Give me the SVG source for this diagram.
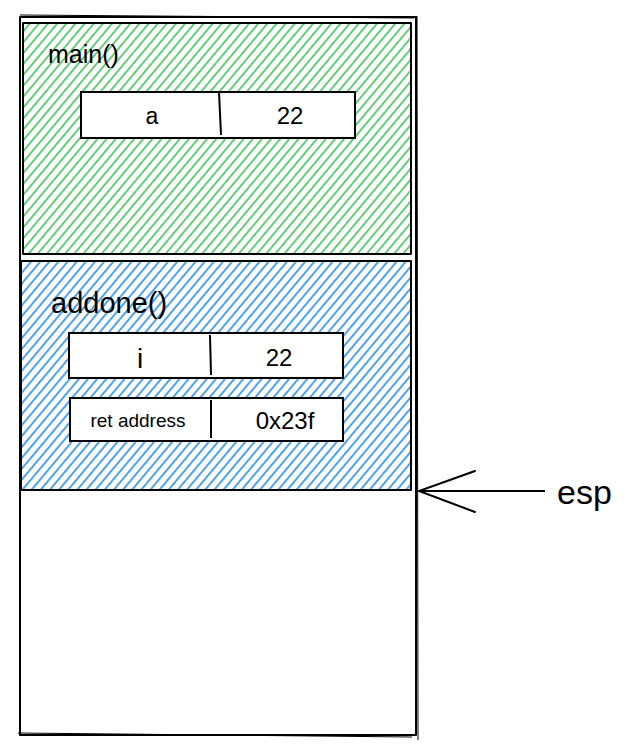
<svg xmlns="http://www.w3.org/2000/svg" width="637" height="753" viewBox="0 0 637 753">
<defs>
<pattern id="hG" width="7" height="7" patternUnits="userSpaceOnUse" patternTransform="rotate(40)">
<line x1="3" y1="0" x2="3" y2="7" stroke="#40c057" stroke-width="1.6"/>
</pattern>
<pattern id="hB" width="7" height="7" patternUnits="userSpaceOnUse" patternTransform="rotate(40)">
<line x1="3" y1="0" x2="3" y2="7" stroke="#228be6" stroke-width="1.6"/>
</pattern>
</defs>
<style>
.box{stroke:#000;stroke-width:2;stroke-linejoin:round}
.cell{fill:#fff;stroke:#000;stroke-width:2}
.t{font-family:"Liberation Sans","Noto Sans",sans-serif;fill:#000}
.c{text-anchor:middle}
</style>
<rect width="637" height="753" fill="#fff"/>
<g id="stack">
<rect class="box" x="20" y="17" width="396" height="718" fill="none"/>
<path d="M20 15 L414 18 M18 733 L412 737 M417 16 L418 740" fill="none" stroke="#000" stroke-width="1"/>
</g>
<g id="main-frame">
<rect x="23" y="23" width="388" height="231" fill="url(#hG)" class="box"/>
<text class="t" x="48" y="63" font-size="25">main()</text>
</g>
<g id="main-a">
<rect class="cell" x="81" y="92" width="274" height="46"/>
<line x1="219" y1="92" x2="221" y2="135" stroke="#000" stroke-width="2"/>
<text class="t c" x="152" y="124" font-size="23">a</text>
<text class="t c" x="290" y="124" font-size="24">22</text>
</g>
<g id="addone-frame">
<rect x="21" y="261" width="390" height="229" fill="url(#hB)" class="box"/>
<text class="t" x="51" y="313" font-size="29">addone()</text>
</g>
<g id="addone-i">
<rect class="cell" x="69" y="333" width="274" height="45"/>
<line x1="210" y1="335" x2="211" y2="375" stroke="#000" stroke-width="2"/>
<text class="t c" x="140" y="368" font-size="28">i</text>
<text class="t c" x="279" y="366" font-size="24">22</text>
</g>
<g id="addone-ret">
<rect class="cell" x="70" y="398" width="273" height="43"/>
<line x1="211" y1="400" x2="211" y2="438" stroke="#000" stroke-width="2"/>
<text class="t c" x="138" y="427" font-size="19">ret address</text>
<text class="t c" x="285" y="429" font-size="24">0x23f</text>
</g>
<g id="connectors">
<line x1="545" y1="491" x2="419" y2="491" stroke="#000" stroke-width="2"/>
<path d="M475 471 L419 491 L475 512" fill="none" stroke="#000" stroke-width="2" stroke-linecap="round"/>
</g>
<g id="esp">
<text class="t" x="557" y="504" font-size="34">esp</text>
</g>
</svg>
